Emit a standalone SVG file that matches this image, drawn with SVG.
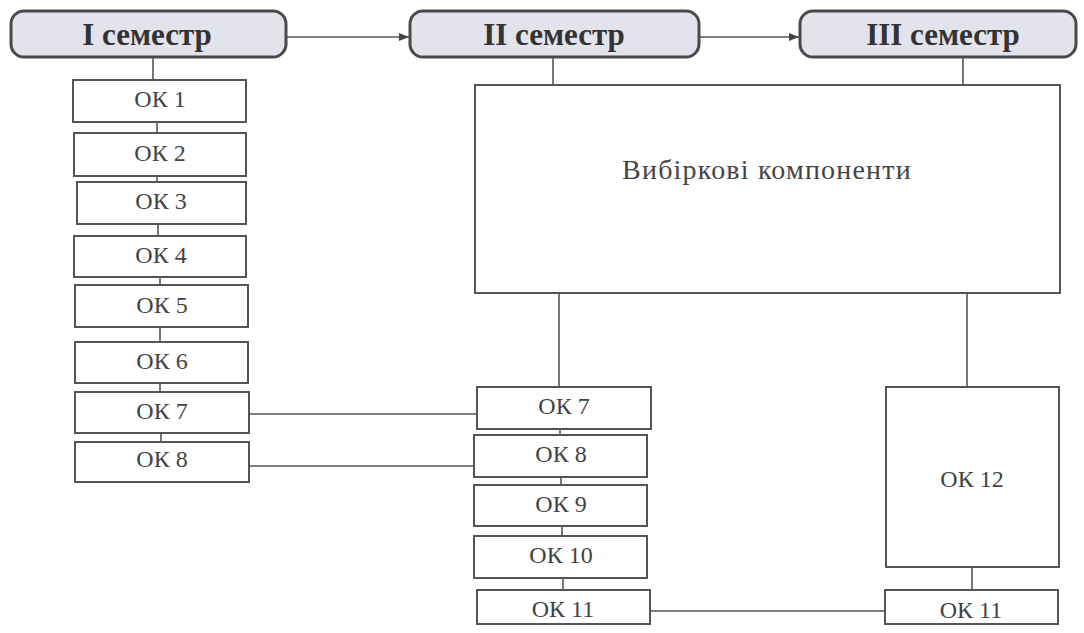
<svg xmlns="http://www.w3.org/2000/svg" width="1084" height="633" viewBox="0 0 1084 633">
<defs>
<style>
.hdr rect{fill:#e3e3eb;stroke:#4a4a4a;stroke-width:3}
.hdr text{font-family:"Liberation Serif","Times New Roman",serif;font-weight:bold;font-size:31px;fill:#333;text-anchor:middle}
.box rect{fill:#fff;stroke:#555;stroke-width:2}
.box text{font-family:"Liberation Serif","Times New Roman",serif;font-size:24px;fill:#444;text-anchor:middle}
.con line{stroke:#555;stroke-width:1.6}
</style>
<marker id="ah" viewBox="0 0 10 10" refX="10" refY="5" markerWidth="10" markerHeight="10" markerUnits="userSpaceOnUse" orient="auto">
<path d="M0,1 L10,5 L0,9 Z" fill="#444"/>
</marker>
</defs>
<rect width="1084" height="633" fill="#fff"/>
<g id="connectors" class="con">
<line x1="287" y1="37" x2="409" y2="37" marker-end="url(#ah)"/>
<line x1="699" y1="37" x2="799" y2="37" marker-end="url(#ah)"/>
<line x1="153" y1="57" x2="153" y2="80"/>
<line x1="553" y1="57" x2="553" y2="85"/>
<line x1="963" y1="57" x2="963" y2="85"/>
<line x1="157" y1="122" x2="157" y2="133"/>
<line x1="157" y1="176" x2="157" y2="182"/>
<line x1="158" y1="224" x2="158" y2="236"/>
<line x1="160" y1="277" x2="160" y2="285"/>
<line x1="160" y1="327" x2="160" y2="342"/>
<line x1="160" y1="383" x2="160" y2="392"/>
<line x1="161" y1="433" x2="161" y2="442"/>
<line x1="249" y1="414" x2="477" y2="414"/>
<line x1="249" y1="466" x2="474" y2="466"/>
<line x1="559" y1="293" x2="559" y2="387"/>
<line x1="560" y1="429" x2="560" y2="435"/>
<line x1="561" y1="477" x2="561" y2="485"/>
<line x1="562" y1="526" x2="562" y2="536"/>
<line x1="563" y1="578" x2="563" y2="590"/>
<line x1="967" y1="293" x2="967" y2="387"/>
<line x1="972" y1="567" x2="972" y2="590"/>
<line x1="650" y1="611" x2="885" y2="611"/>
</g>
<g id="sem1" class="hdr"><rect x="11" y="11" width="275" height="46" rx="13"/><text x="147" y="45">I семестр</text></g>
<g id="sem2" class="hdr"><rect x="410" y="11" width="289" height="46" rx="13"/><text x="554" y="45">II семестр</text></g>
<g id="sem3" class="hdr"><rect x="800" y="11" width="276" height="46" rx="13"/><text x="943" y="45">III семестр</text></g>
<g id="vybirkovi" class="box"><rect x="475" y="85" width="585" height="208"/><text x="767" y="179" style="font-size:28px;letter-spacing:1.2px">Вибіркові компоненти</text></g>
<g id="ok1" class="box"><rect x="73" y="80" width="173" height="42"/><text x="160" y="107">ОК 1</text></g>
<g id="ok2" class="box"><rect x="74" y="133" width="172" height="43"/><text x="160" y="161">ОК 2</text></g>
<g id="ok3" class="box"><rect x="77" y="182" width="169" height="42"/><text x="161" y="209">ОК 3</text></g>
<g id="ok4" class="box"><rect x="74" y="236" width="172" height="41"/><text x="161" y="263">ОК 4</text></g>
<g id="ok5" class="box"><rect x="75" y="285" width="173" height="42"/><text x="162" y="313">ОК 5</text></g>
<g id="ok6" class="box"><rect x="75" y="342" width="173" height="41"/><text x="162" y="369">ОК 6</text></g>
<g id="ok7a" class="box"><rect x="75" y="392" width="174" height="41"/><text x="162" y="419">ОК 7</text></g>
<g id="ok8a" class="box"><rect x="75" y="442" width="174" height="40"/><text x="162" y="467">ОК 8</text></g>
<g id="ok7b" class="box"><rect x="477" y="387" width="174" height="42"/><text x="564" y="414">ОК 7</text></g>
<g id="ok8b" class="box"><rect x="474" y="435" width="173" height="42"/><text x="561" y="462">ОК 8</text></g>
<g id="ok9" class="box"><rect x="474" y="485" width="173" height="41"/><text x="561" y="512">ОК 9</text></g>
<g id="ok10" class="box"><rect x="474" y="536" width="173" height="42"/><text x="561" y="563">ОК 10</text></g>
<g id="ok11b" class="box"><rect x="477" y="590" width="173" height="34"/><text x="563" y="617">ОК 11</text></g>
<g id="ok12" class="box"><rect x="886" y="387" width="173" height="180"/><text x="972" y="487">ОК 12</text></g>
<g id="ok11c" class="box"><rect x="885" y="590" width="173" height="34"/><text x="971" y="618">ОК 11</text></g>
</svg>
